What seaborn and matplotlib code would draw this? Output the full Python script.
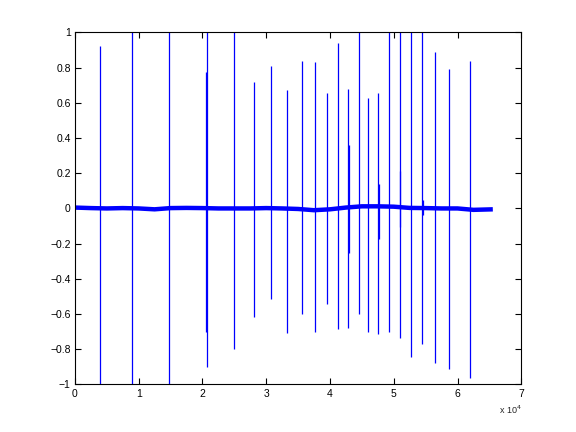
import matplotlib
matplotlib.use("Agg")
import matplotlib.pyplot as plt
import seaborn as sns
import pandas as pd

# ---- data ----
baseline_x = [0, 2500, 5000, 7500, 10000, 12500, 15000, 17500, 20000, 22500,
              25000, 27500, 30000, 32500, 35000, 37500, 40000, 42500, 45000,
              47500, 50000, 52500, 55000, 57500, 60000, 62500, 65536]
baseline_y = [0.005, 0.002, 0.0, 0.002, 0.0, -0.005, 0.002, 0.003, 0.002, 0.0,
              0.0, 0.0, 0.002, 0.0, -0.003, -0.010, -0.005, 0.005, 0.012,
              0.012, 0.010, 0.003, 0.002, 0.0, 0.0, -0.008, -0.005]

spike_x = [3980, 9000, 14800, 20590, 20760, 25000, 28130, 30800, 33300, 35660,
           37700, 39580, 41300, 42870, 42980, 44600, 46010, 47580, 47690,
           49300, 51030, 50930, 52750, 54480, 54580, 56520, 58710, 62000]
spike_top = [0.923, 1.0, 1.0, 0.775, 1.0, 1.0, 0.718, 0.808, 0.673, 0.838,
             0.832, 0.656, 0.940, 0.678, 0.360, 1.0, 0.627, 0.656, 0.139,
             1.0, 1.0, 0.213, 1.0, 1.0, 0.048, 0.889, 0.792, 0.838]
spike_bottom = [-1.0, -1.0, -1.0, -0.702, -0.900, -0.798, -0.617, -0.514, -0.707, -0.600,
                -0.702, -0.543, -0.685, -0.679, -0.253, -0.600, -0.702, -0.713, -0.174,
                -0.702, -0.736, -0.106, -0.843, -0.770, -0.040, -0.878, -0.912, -0.963]

x_ticks = [0, 10000, 20000, 30000, 40000, 50000, 60000, 70000]
x_ticklabels = ["0", "1", "2", "3", "4", "5", "6", "7"]
y_ticks = [-1, -0.8, -0.6, -0.4, -0.2, 0, 0.2, 0.4, 0.6, 0.8, 1]
y_ticklabels = ["\u22121", "\u22120.8", "\u22120.6", "\u22120.4", "\u22120.2", "0",
                "0.2", "0.4", "0.6", "0.8", "1"]

sns.set_theme(style="white")
plt.rcParams["font.family"] = ["Liberation Sans", "DejaVu Sans"]
plt.rcParams["axes.unicode_minus"] = True

fig = plt.figure(figsize=(5.76, 4.32), dpi=100)
fig.patch.set_facecolor("white")
ax = fig.add_axes([0.13, 0.11, 0.775, 0.815])
ax.set_facecolor("white")

df = pd.DataFrame({"x": baseline_x, "y": baseline_y})
sns.lineplot(data=df, x="x", y="y", ax=ax, color=(0, 0, 1), linewidth=3.2,
             estimator=None, sort=False, solid_capstyle="butt")
ax.vlines(spike_x, spike_bottom, spike_top, colors=[(0, 0, 1)], linewidth=0.9)

ax.set_xlim(0, 70000)
ax.set_ylim(-1, 1)
ax.set_xticks(x_ticks)
ax.set_xticklabels(x_ticklabels)
ax.set_yticks(y_ticks)
ax.set_yticklabels(y_ticklabels)
ax.set_xlabel("")
ax.set_ylabel("")

for s in ax.spines.values():
    s.set_color("black")
    s.set_linewidth(0.8)
    s.set_visible(True)

ax.tick_params(direction="in", length=4, width=0.8, colors="black",
               labelsize=7.5, top=True, right=True, bottom=True, left=True,
               pad=3)

ax.text(1.0, -0.055, "x 10$^{4}$", transform=ax.transAxes, ha="right", va="top",
        fontsize=6.5)

fig.savefig("out.png", dpi=100, facecolor="white")
